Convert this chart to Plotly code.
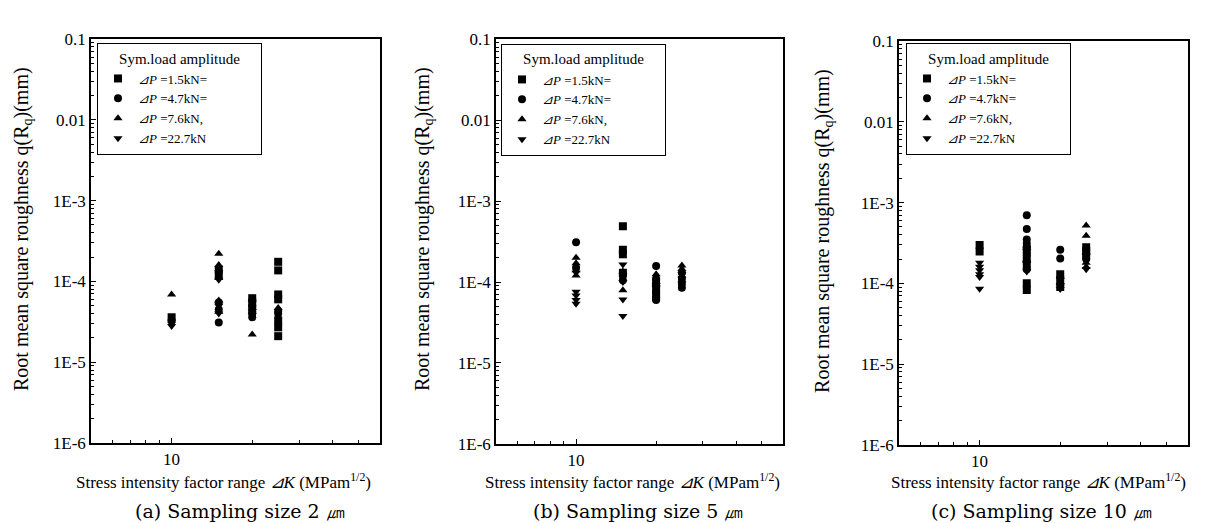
import plotly.graph_objects as go

W, H = 1208, 523

# ---- data: panel (a) sampling size 2 um ----
a_sq_x = [10, 15, 15, 20, 20, 20, 25, 25, 25, 25, 25, 25, 25]
a_sq_y = [3.6e-5, 1.2e-4, 1.4e-4, 6.2e-5, 5.5e-5, 4.5e-5, 1.75e-4, 1.37e-4, 6.9e-5, 6.0e-5, 3.3e-5, 2.7e-5, 2.1e-5]
a_ci_x = [10, 15, 15, 15, 20, 20, 20, 25, 25]
a_ci_y = [3.3e-5, 3.1e-5, 4.5e-5, 5.5e-5, 5.0e-5, 4.0e-5, 3.6e-5, 4.3e-5, 4.0e-5]
a_tu_x = [10, 15, 15, 15, 15, 15, 20, 20, 25]
a_tu_y = [6.9e-5, 2.2e-4, 1.6e-4, 1.1e-4, 5.8e-5, 4.2e-5, 2.2e-5, 6.0e-5, 4.7e-5]
a_td_x = [10, 10, 15, 15, 15, 15, 20, 20]
a_td_y = [3.0e-5, 2.8e-5, 1.05e-4, 1.3e-4, 5.0e-5, 4.0e-5, 4.3e-5, 3.8e-5]

# ---- data: panel (b) sampling size 5 um ----
b_sq_x = [15, 15, 15, 15, 20, 20, 20]
b_sq_y = [4.9e-4, 2.5e-4, 2.2e-4, 1.3e-4, 1.0e-4, 8.0e-5, 6.5e-5]
b_ci_x = [10, 10, 15, 15, 20, 20, 20, 20, 20, 20, 25, 25, 25, 25]
b_ci_y = [3.1e-4, 1.5e-4, 1.2e-4, 1.05e-4, 1.58e-4, 1.1e-4, 9.0e-5, 7.5e-5, 6.5e-5, 6.0e-5, 1.1e-4, 9.5e-5, 8.5e-5, 1.3e-4]
b_tu_x = [10, 10, 10, 10, 15, 15, 20, 20, 25, 25, 25, 25]
b_tu_y = [2.0e-4, 1.7e-4, 1.4e-4, 1.2e-4, 1.35e-4, 7.9e-5, 1.25e-4, 1.0e-4, 1.6e-4, 1.45e-4, 1.2e-4, 1.05e-4]
b_td_x = [10, 10, 10, 10, 10, 15, 15, 15, 15, 20, 25]
b_td_y = [7.6e-5, 6.8e-5, 6.0e-5, 5.4e-5, 1.3e-4, 1.64e-4, 6.1e-5, 3.8e-5, 1.0e-4, 8.5e-5, 1.25e-4]

# ---- data: panel (c) sampling size 10 um ----
c_sq_x = [10, 10, 15, 15, 15, 15, 15, 20, 20, 20, 25, 25, 25]
c_sq_y = [2.98e-4, 2.48e-4, 1.0e-4, 8.3e-5, 2.0e-4, 2.6e-4, 1.7e-4, 1.3e-4, 1.1e-4, 9.0e-5, 2.8e-4, 2.5e-4, 2.2e-4]
c_ci_x = [15, 15, 15, 15, 15, 15, 15, 20, 20, 25]
c_ci_y = [6.98e-4, 4.7e-4, 3.5e-4, 3.1e-4, 2.8e-4, 2.3e-4, 1.5e-4, 2.6e-4, 2.03e-4, 2.0e-4]
c_tu_x = [15, 20, 20, 25, 25, 25, 25, 25]
c_tu_y = [1.9e-4, 1.0e-4, 1.2e-4, 5.2e-4, 3.9e-4, 1.8e-4, 1.6e-4, 2.4e-4]
c_td_x = [10, 10, 10, 10, 10, 10, 15, 15, 15, 20, 20, 25]
c_td_y = [1.8e-4, 1.6e-4, 1.45e-4, 1.3e-4, 1.2e-4, 8.6e-5, 2.5e-4, 1.8e-4, 1.4e-4, 8.5e-5, 9.5e-5, 1.5e-4]

series_names = ["<i>⊿P</i> =1.5kN=", "<i>⊿P</i> =4.7kN=", "<i>⊿P</i> =7.6kN,", "<i>⊿P</i> =22.7kN"]
symbols = ["square", "circle", "triangle-up", "triangle-down"]
y_tickvals = [1e-6, 1e-5, 1e-4, 1e-3, 1e-2, 1e-1]
y_ticktext = ["1E-6", "1E-5", "1E-4", "1E-3", "0.01", "0.1"]
x_tickvals = [10]
x_ticktext = ["10"]
x_minor = [6, 7, 8, 9, 20, 30, 40, 50]
y_minor = [m * 10.0 ** e for e in range(-6, -1) for m in range(2, 10)]
legend_title = "\u00a0" * 5 + "Sym.load amplitude" + "\u00a0" * 5
captions = ["(a) Sampling size 2 ㎛", "(b) Sampling size 5 ㎛", "(c) Sampling size 10 ㎛"]

panels = [
    [(a_sq_x, a_sq_y), (a_ci_x, a_ci_y), (a_tu_x, a_tu_y), (a_td_x, a_td_y)],
    [(b_sq_x, b_sq_y), (b_ci_x, b_ci_y), (b_tu_x, b_tu_y), (b_td_x, b_td_y)],
    [(c_sq_x, c_sq_y), (c_ci_x, c_ci_y), (c_tu_x, c_tu_y), (c_td_x, c_td_y)],
]

# pixel geometry (left, right, top, bottom) of each plot frame
frames = [(83, 372, 23, 442), (488, 775, 23, 443), (891, 1180, 25, 444)]
legend_pos = [(89, 27), (493, 28), (898, 27)]
ytitle_pos = [(14, 220), (415, 220), (816, 222)]
xtitle_cx = [215, 624, 1030]
caption_cx = [232, 630, 1033]

FONT = "Liberation Serif, Times New Roman, serif"
fig = go.Figure()
annotations = []
for i, (data, fr) in enumerate(zip(panels, frames)):
    sfx = "" if i == 0 else str(i + 1)
    leg = "legend" if i == 0 else "legend" + str(i + 1)
    for j, (xs, ys) in enumerate(data):
        fig.add_trace(go.Scatter(
            x=xs, y=ys, mode="markers", name=series_names[j],
            marker=dict(symbol=symbols[j], size=8, color="black"),
            xaxis="x" + sfx, yaxis="y" + sfx, legend=leg,
        ))
    l, r, t, b = fr
    axis_common = dict(showline=True, linecolor="black", linewidth=1.5, mirror=True,
                       showgrid=False, zeroline=False, ticks="inside", ticklen=5,
                       tickcolor="black", tickfont=dict(family=FONT, size=17, color="black"))
    fig.update_layout(**{
        "xaxis" + sfx: dict(type="log", range=[0.69897, 1.77815], domain=[l / W, r / W],
                            anchor="y" + sfx, tickvals=x_tickvals, ticktext=x_ticktext,
                            minor=dict(tickvals=x_minor, ticks="inside", ticklen=3, tickcolor="black"),
                            **axis_common),
        "yaxis" + sfx: dict(type="log", range=[-6, -1], domain=[(H - b) / H, (H - t) / H],
                            anchor="x" + sfx, tickvals=y_tickvals, ticktext=y_ticktext,
                            minor=dict(tickvals=y_minor, ticks="inside", ticklen=3, tickcolor="black"),
                            **axis_common),
        leg: dict(x=legend_pos[i][0] / W, y=(H - legend_pos[i][1]) / H, xanchor="left", yanchor="top",
                  bordercolor="black", borderwidth=1, bgcolor="white",
                  font=dict(family=FONT, size=13, color="black"),
                  title=dict(text=legend_title, side="top center",
                             font=dict(family=FONT, size=15, color="black")),
                  tracegroupgap=0, itemwidth=30),
    })
    annotations.append(dict(text="Root mean square roughness q(R<sub>q</sub>)(mm)", textangle=-90,
                            x=ytitle_pos[i][0] / W, y=(H - ytitle_pos[i][1]) / H,
                            xref="paper", yref="paper", xanchor="center", yanchor="middle",
                            showarrow=False, font=dict(family=FONT, size=20, color="black")))
    annotations.append(dict(text="Stress intensity factor range <i>⊿K</i> (MPam<sup>1/2</sup>)",
                            x=xtitle_cx[i] / W, y=(H - 481) / H, xref="paper", yref="paper",
                            xanchor="center", yanchor="middle",
                            showarrow=False, font=dict(family=FONT, size=17, color="black")))
    annotations.append(dict(text=captions[i], x=caption_cx[i] / W, y=(H - 513) / H,
                            xref="paper", yref="paper", xanchor="center", yanchor="middle",
                            showarrow=False, font=dict(family="DejaVu Serif", size=19, color="black")))

fig.update_layout(width=W, height=H, margin=dict(l=0, r=0, t=0, b=0),
                  paper_bgcolor="white", plot_bgcolor="white",
                  annotations=annotations, showlegend=True)
fig.write_html("out.html")
